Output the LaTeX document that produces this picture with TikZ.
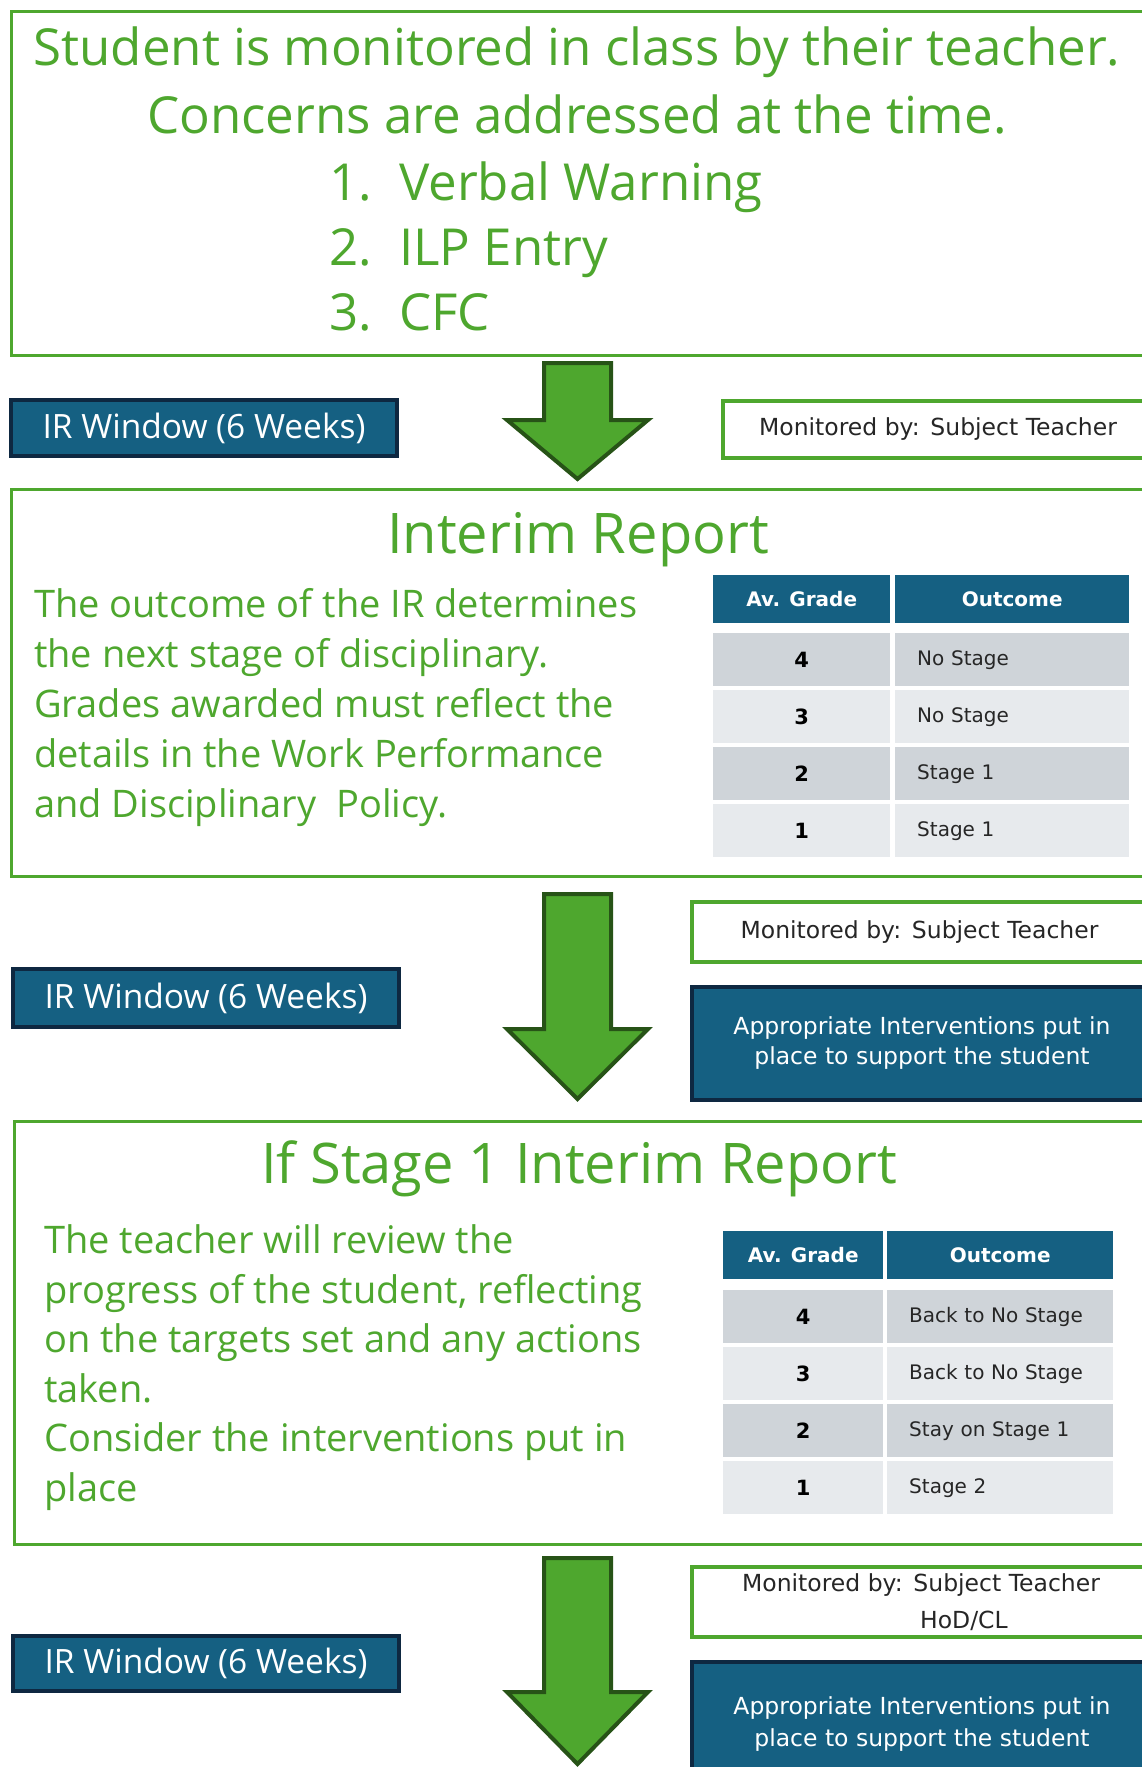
\documentclass[tikz,border=0pt]{standalone}
\usepackage{fontspec}
\setmainfont{Open Sans}
\newfontfamily\tablefont{DejaVu Sans}

\begin{document}
\begin{tikzpicture}[x=1pt,y=-1pt]
  % Colors
  \definecolor{ofgreen}{HTML}{4EA72E}
  \definecolor{darkgreen}{HTML}{275317}
  \definecolor{ofblue}{HTML}{156082}
  \definecolor{ofnavy}{HTML}{0E2841}
  \definecolor{rowdark}{HTML}{CFD4D9}
  \definecolor{rowlight}{HTML}{E7EAED}
  \definecolor{txtgrey}{HTML}{262626}

  % Styles
  \tikzstyle{stagebox}=[draw=ofgreen,line width=3pt,anchor=north west,inner sep=0pt]
  \tikzstyle{monbox}=[draw=ofgreen,line width=4pt,fill=white,anchor=north west,
    text=txtgrey,font=\tablefont\fontsize{23.5}{37}\selectfont]
  \tikzstyle{bluebox}=[draw=ofnavy,line width=4pt,fill=ofblue,anchor=north west,text=white]
  \tikzstyle{downarrow}=[draw=darkgreen,fill=ofgreen,line width=4pt,line join=miter]
  \tikzstyle{greentext}=[text=ofgreen,inner sep=0pt]
  \tikzstyle{headline}=[greentext,font=\fontsize{51}{61}\selectfont]
  \tikzstyle{title}=[greentext,font=\fontsize{56}{67}\selectfont,anchor=base]
  \tikzstyle{para}=[greentext,font=\fontsize{38}{46}\selectfont,anchor=base west]
  \tikzstyle{headcell}=[fill=ofblue,text=white,anchor=north west,minimum height=48pt,
    inner sep=0pt,font=\tablefont\bfseries\fontsize{20}{24}\selectfont]
  \tikzstyle{gradecell}=[anchor=north west,minimum height=53pt,inner sep=0pt,
    text=black,font=\tablefont\bfseries\fontsize{21}{24}\selectfont]
  \tikzstyle{outcell}=[anchor=north west,minimum height=53pt,inner xsep=22pt,inner ysep=0pt,
    align=left,text=txtgrey,font=\tablefont\fontsize{20}{24}\selectfont]

  % The graphic
  \clip (0,0) rectangle (1142,1767);
  \fill[white] (0,0) rectangle (1142,1767);

  % first box
  \node[stagebox,minimum width=1160pt,minimum height=344pt] (stage0) at (10,10) {};
  \node[headline,anchor=base] (l1) at (577,65) {Student is monitored in class by their teacher.};
  \node[headline,anchor=base] (l2) at (577,133) {Concerns are addressed at the time.};
  \foreach \nr/\t/\y [count=\i] in {1./Verbal Warning/200, 2./ILP Entry/265, 3./CFC/330} {
    \node[headline,anchor=base west] (nr\i) at (329,\y) {\nr};
    \node[headline,anchor=base west] (item\i) at (399,\y) {\t};
  }

  % arrows
  \foreach \top/\head/\tip in {363/420/479, 894/1029/1099, 1558/1692/1764}
    \draw[downarrow] (544,\top) -- (611,\top) -- (611,\head) -- (648,\head) -- (577.5,\tip)
      -- (507,\head) -- (544,\head) -- cycle;

  % windows
  \node[bluebox,minimum width=386pt,minimum height=56pt,font=\fontsize{33.5}{40}\selectfont]
    (win1) at (9,398) {IR Window (6 Weeks)};
  \node[bluebox,minimum width=386pt,minimum height=58pt,font=\fontsize{33.5}{40}\selectfont]
    (win2) at (11,967) {IR Window (6 Weeks)};
  \node[bluebox,minimum width=386pt,minimum height=55pt,font=\fontsize{33.5}{40}\selectfont]
    (win3) at (11,1634) {IR Window (6 Weeks)};

  \node[monbox,minimum width=430pt,minimum height=57pt] (mon1) at (721,399)
    {Monitored by:\hspace{0.45em}Subject Teacher};
  \node[monbox,minimum width=455pt,minimum height=60pt] (mon2) at (690,900)
    {Monitored by:\hspace{0.45em}Subject Teacher};
  \node[monbox,minimum width=458pt,minimum height=70pt,align=left,inner ysep=0pt] (mon3) at (690,1565)
    {Monitored by:\hspace{0.45em}Subject Teacher\\\hspace*{178pt}HoD/CL};

  \node[bluebox,minimum width=460pt,minimum height=113pt,align=center,
    font=\tablefont\fontsize{23.5}{30}\selectfont] (help2) at (690,985)
    {Appropriate Interventions put in\\place to support the student};
  \node[bluebox,minimum width=460pt,minimum height=124pt,align=center,
    font=\tablefont\fontsize{23.5}{32}\selectfont] (help3) at (690,1660)
    {Appropriate Interventions put in\\place to support the student};

  % interim report box
  \node[stagebox,minimum width=1160pt,minimum height=387pt] (stage1) at (10,488) {};
  \node[title] (ir) at (578,553) {Interim Report};
  \foreach \y/\t [count=\i] in {617/The outcome of the IR determines, 667/the next stage of disciplinary.,
      717/Grades awarded must reflect the, 767/details in the Work Performance,
      817/and Disciplinary~ Policy.}
    \node[para] (ira\i) at (34,\y) {\t};

  \node[headcell,minimum width=177pt] (hda) at (713,575) {Av. Grade};
  \node[headcell,minimum width=234pt] (hdb) at (895,575) {Outcome};
  \foreach \g/\o/\c [count=\i from 0] in {4/No Stage/rowdark, 3/No Stage/rowlight,
      2/Stage 1/rowdark, 1/Stage 1/rowlight} {
    \node[gradecell,fill=\c,minimum width=177pt] (ga\i) at (713,633+57*\i) {\g};
    \node[outcell,fill=\c,text width=190pt] (oa\i) at (895,633+57*\i) {\o};
  }

  % stage 1 box
  \node[stagebox,minimum width=1160pt,minimum height=423pt] (stage2) at (13,1120) {};
  \node[title] (ir2) at (579,1183) {If Stage 1 Interim Report};
  \foreach \y/\t [count=\i] in {1253/The teacher will review the,
      1303/{progress of the student, reflecting}, 1352/on the targets set and any actions,
      1402/taken., 1451/Consider the interventions put in, 1501/place}
    \node[para] (irb\i) at (44,\y) {\t};

  \node[headcell,minimum width=160pt] (hdc) at (723,1231) {Av. Grade};
  \node[headcell,minimum width=226pt] (hdd) at (887,1231) {Outcome};
  \foreach \g/\o/\c [count=\i from 0] in {4/Back to No Stage/rowdark, 3/Back to No Stage/rowlight,
      2/Stay on Stage 1/rowdark, 1/Stage 2/rowlight} {
    \node[gradecell,fill=\c,minimum width=160pt] (gb\i) at (723,1290+57*\i) {\g};
    \node[outcell,fill=\c,text width=182pt] (ob\i) at (887,1290+57*\i) {\o};
  }
\end{tikzpicture}
\end{document}
